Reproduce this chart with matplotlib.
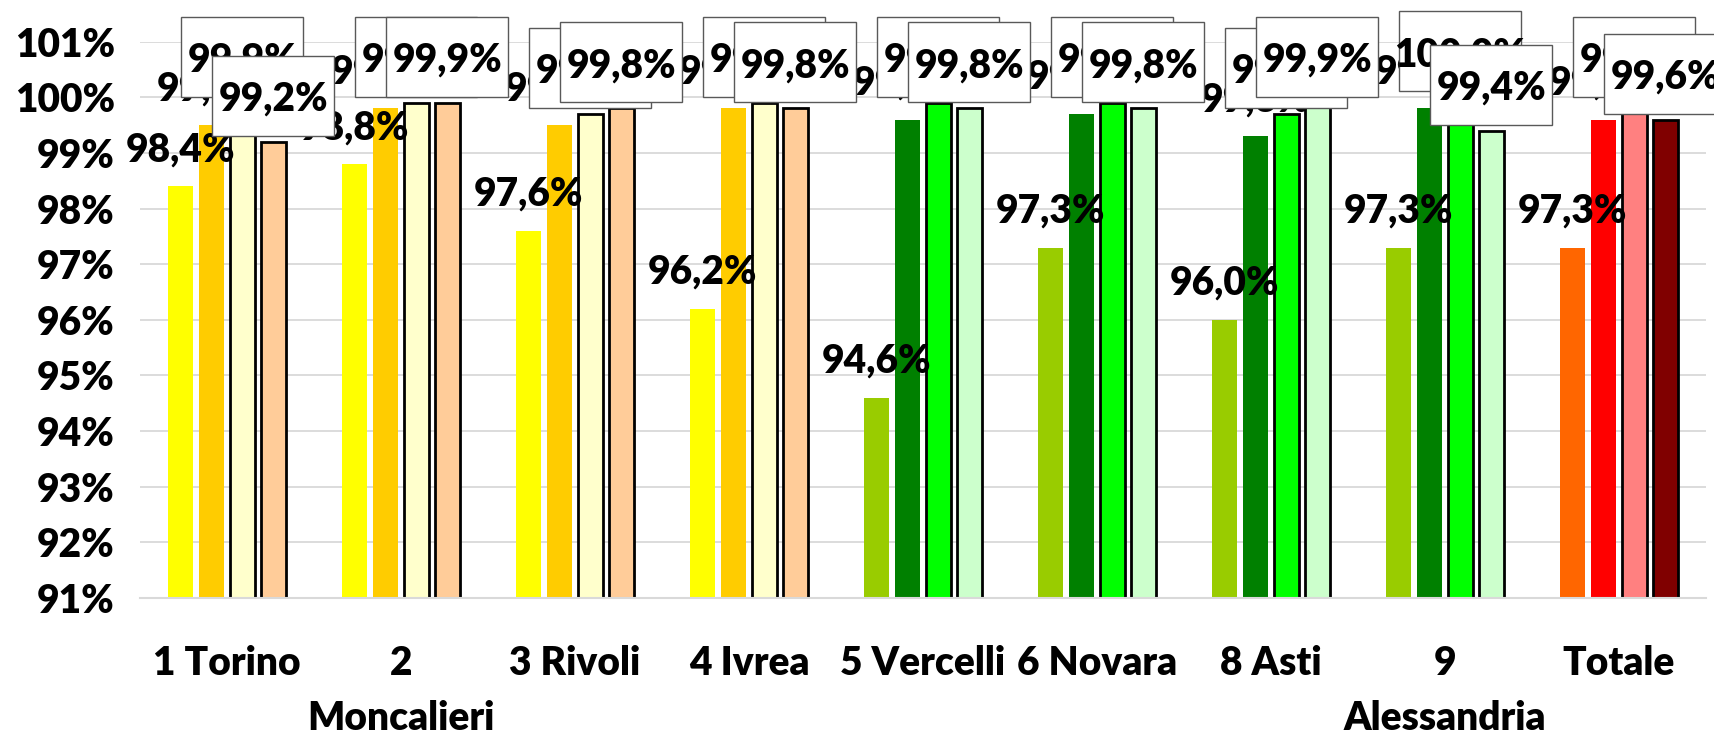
import matplotlib.pyplot as plt
import numpy as np
from matplotlib.patches import Rectangle

plt.rcParams["font.family"] = ["Lato", "DejaVu Sans"]
plt.rcParams["font.weight"] = "heavy"

# dati
categories = ["1 Torino", "2\nMoncalieri", "3 Rivoli", "4 Ivrea", "5 Vercelli",
              "6 Novara", "8 Asti", "9\nAlessandria", "Totale"]
serie_1 = [98.4, 98.8, 97.6, 96.2, 94.6, 97.3, 96.0, 97.3, 97.3]
serie_2 = [99.5, 99.8, 99.5, 99.8, 99.6, 99.7, 99.3, 99.8, 99.6]
serie_3 = [99.9, 99.9, 99.7, 99.9, 99.9, 99.9, 99.7, 100.0, 99.9]
serie_4 = [99.2, 99.9, 99.8, 99.8, 99.8, 99.8, 99.9, 99.4, 99.6]

colori_1 = ["#FFFF00"] * 4 + ["#99CC00"] * 4 + ["#FF6600"]
colori_2 = ["#FFCC00"] * 4 + ["#008000"] * 4 + ["#FF0000"]
colori_3 = ["#FFFFCC"] * 4 + ["#00FF00"] * 4 + ["#FF8080"]
colori_4 = ["#FFCC99"] * 4 + ["#CCFFCC"] * 4 + ["#800000"]

yticks = list(range(91, 102))

W, H, DPI = 17.15, 7.36, 100
fig = plt.figure(figsize=(W, H), dpi=DPI)
ax_left, ax_right, ax_bottom, ax_top = 140, 1706, 598, 41.7
ax = fig.add_axes([ax_left / 1715, 1 - ax_bottom / 736,
                   (ax_right - ax_left) / 1715, (ax_bottom - ax_top) / 736])

x = np.arange(len(categories))
xlim = (-0.5, len(categories) - 0.5)
ylim = (91, 101)
ax.set_xlim(xlim)
ax.set_ylim(ylim)

# pixel -> unita' dati
px_x = (xlim[1] - xlim[0]) / (ax_right - ax_left)
px_y = (ylim[1] - ylim[0]) / (ax_bottom - ax_top)

step = 0.178
width = 0.145
series = [(serie_1, colori_1, False), (serie_2, colori_2, False),
          (serie_3, colori_3, True), (serie_4, colori_4, True)]

fs = 28
for i, (vals, cols, edged) in enumerate(series):
    xs = x + (i - 1.5) * step
    ax.bar(xs, vals, width=width, color=cols,
           edgecolor="black" if edged else "none",
           linewidth=2.0 if edged else 0, zorder=2)
    for xi, v in zip(xs, vals):
        lab = f"{v:.1f}%".replace(".", ",")
        if edged:
            # etichetta con riquadro bianco
            bw, bh = 122 * px_x, 80 * px_y
            by = v + 6 * px_y
            ax.add_patch(Rectangle((xi - bw / 2, by), bw, bh, facecolor="white",
                                   edgecolor="#595959", linewidth=1.0,
                                   clip_on=False, zorder=5 + i))
            ax.text(xi, by + bh / 2, lab, ha="center", va="center_baseline",
                    fontsize=fs, clip_on=False, zorder=5.5 + i)
        else:
            ax.text(xi, v + 40 * px_y, lab, ha="center", va="center_baseline",
                    fontsize=fs, clip_on=False, zorder=5 + i)

ax.set_yticks(yticks)
ax.set_yticklabels([f"{t}%" for t in yticks], fontsize=fs)
ax.set_xticks(x)
ax.set_xticklabels(categories, fontsize=fs, linespacing=1.6)
ax.tick_params(axis="both", length=0)
ax.tick_params(axis="x", pad=34)
ax.tick_params(axis="y", pad=18)

ax.yaxis.grid(True, color="#D9D9D9", linewidth=1.3)
ax.set_axisbelow(True)
for s in ["top", "right", "left"]:
    ax.spines[s].set_visible(False)
ax.spines["bottom"].set_color("#D9D9D9")
ax.spines["bottom"].set_linewidth(1.5)

fig.savefig("out.png", dpi=DPI)
